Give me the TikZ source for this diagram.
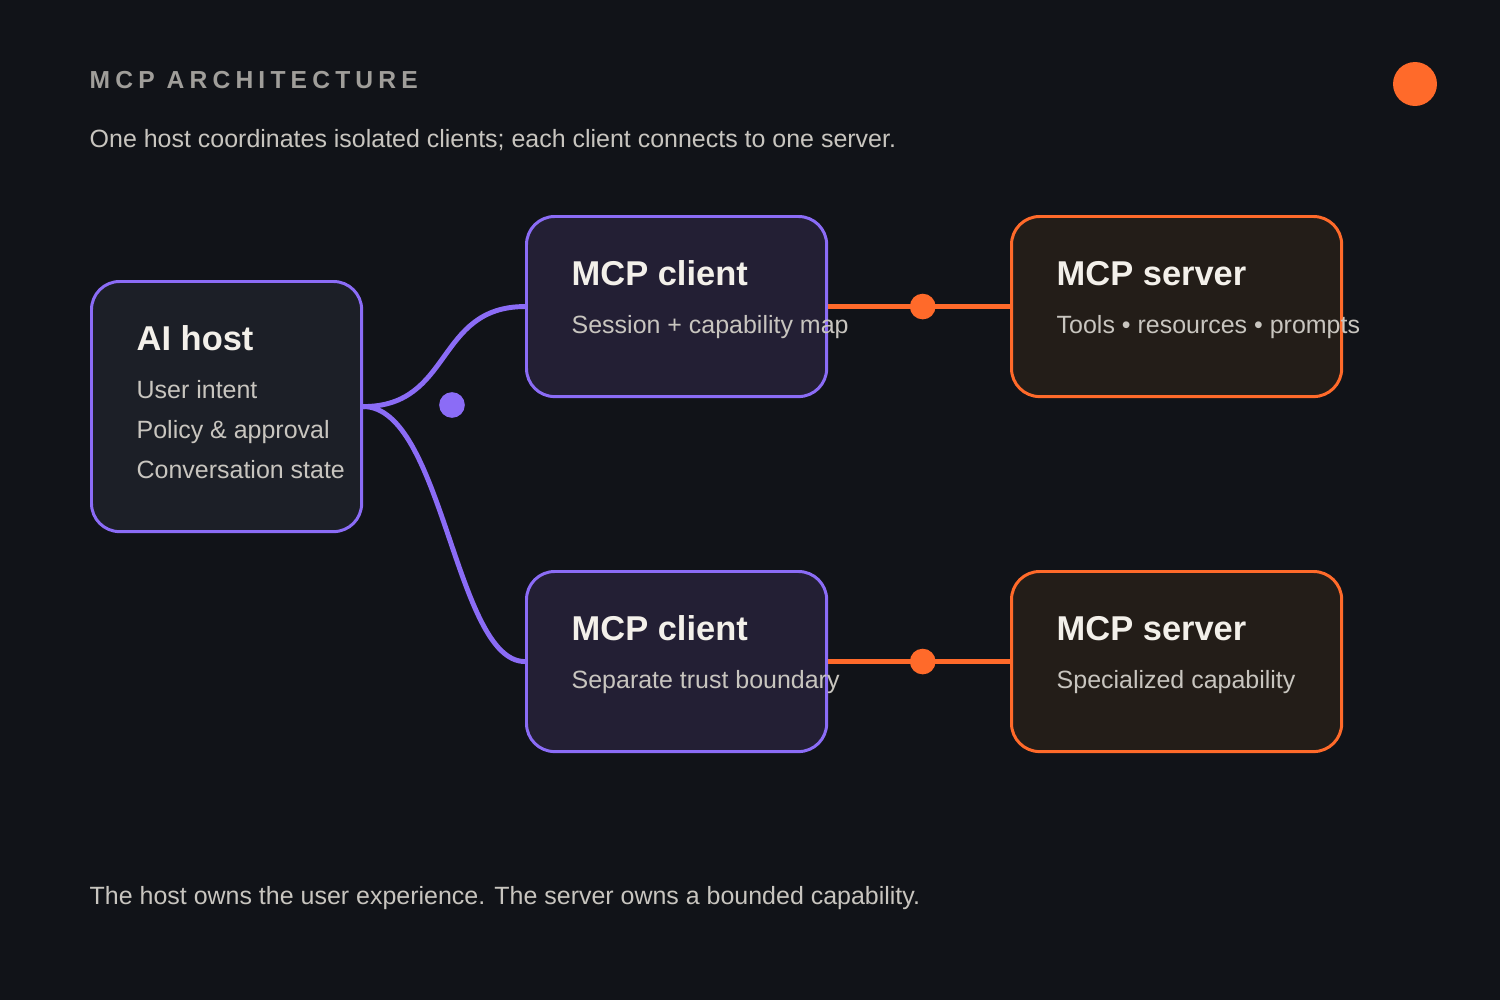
\documentclass[tikz,border=0pt]{standalone}
\usepackage{fontspec}
\setmainfont{Liberation Sans}
\usetikzlibrary{positioning}
\definecolor{bgc}{HTML}{111318}
\definecolor{hostfill}{HTML}{1C1F27}
\definecolor{clientfill}{HTML}{231F34}
\definecolor{serverfill}{HTML}{231D18}
\definecolor{violet}{HTML}{8B6CF6}
\definecolor{tangerine}{HTML}{FF6A2A}
\definecolor{ink}{HTML}{F3F0EA}
\definecolor{dim}{HTML}{C8C5BF}
\definecolor{faint}{HTML}{A09E9A}
\tikzset{
  box/.style={draw, line width=0.85pt, rounded corners=8pt, anchor=north west, inner sep=0pt},
  hostbox/.style={box, draw=violet, fill=hostfill},
  clientbox/.style={box, draw=violet, fill=clientfill},
  serverbox/.style={box, draw=tangerine, fill=serverfill},
  ttl/.style={anchor=base west, inner sep=0pt, text=ink, font=\fontsize{9.8}{12}\selectfont\bfseries},
  sub/.style={anchor=base west, inner sep=0pt, text=dim, font=\fontsize{7.1}{8}\selectfont},
  link/.style={line width=1.4pt},
  knot/.style={circle, inner sep=0pt, minimum size=7.3pt}
}
\begin{document}
\begin{tikzpicture}[x=0.01cm,y=-0.01cm]
\fill[bgc] (0,0) rectangle (1500,1000);
\useasboundingbox (0,0) rectangle (1500,1000);

% heading
\node (head) at (89,88) [anchor=base west, inner sep=0pt, text=faint, font=\fontsize{7}{8}\selectfont\bfseries\addfontfeatures{LetterSpace=21}] {MCP ARCHITECTURE};
\node (lede) at (89,147) [anchor=base west, inner sep=0pt, text=dim, font=\fontsize{7.1}{8}\selectfont] {One host coordinates isolated clients; each client connects to one server.};
\node (spot) at (1415,84) [knot, fill=tangerine, minimum size=12.5pt] {};

% boxes
\node (host) at (90,280) [hostbox, minimum width=2.7cm, minimum height=2.5cm] {};
\node (c1) at (525,215) [clientbox, minimum width=3cm, minimum height=1.8cm] {};
\node (c2) at (525,570) [clientbox, minimum width=3cm, minimum height=1.8cm] {};
\node (s1) at (1010,215) [serverbox, minimum width=3.3cm, minimum height=1.8cm] {};
\node (s2) at (1010,570) [serverbox, minimum width=3.3cm, minimum height=1.8cm] {};

% texts
\node (hostT) at (136,350) [ttl] {AI host};
\node (hostA) at (136,398) [sub] {User intent};
\node (hostB) at (136,438) [sub] {Policy \& approval};
\node (hostC) at (136,478) [sub] {Conversation state};
\node (c1T) at (571,285) [ttl] {MCP client};
\node (c1S) at (571,333) [sub] {Session + capability map};
\node (c2T) at (571,640) [ttl] {MCP client};
\node (c2S) at (571,688) [sub] {Separate trust boundary};
\node (s1T) at (1056,285) [ttl] {MCP server};
\node (s1S) at (1056,333) [sub] {Tools • resources • prompts};
\node (s2T) at (1056,640) [ttl] {MCP server};
\node (s2S) at (1056,688) [sub] {Specialized capability};

% connectors
\draw[link, violet] (host.east) .. controls +(90,0) and +(-90,0) .. (c1.west);
\draw[link, violet] (host.east) .. controls +(80,0) and +(-70,0) .. (c2.west);
\node (hub) at (452,405) [knot, fill=violet] {};
\draw[link, tangerine] (c1.east) -- (s1.west) node[pos=0.52, knot, fill=tangerine] (j1) {};
\draw[link, tangerine] (c2.east) -- (s2.west) node[pos=0.52, knot, fill=tangerine] (j2) {};

\node (foot) at (89,904) [anchor=base west, inner sep=0pt, text=dim, font=\fontsize{7.1}{8}\selectfont] {The host owns the user experience. The server owns a bounded capability.};
\end{tikzpicture}
\end{document}
